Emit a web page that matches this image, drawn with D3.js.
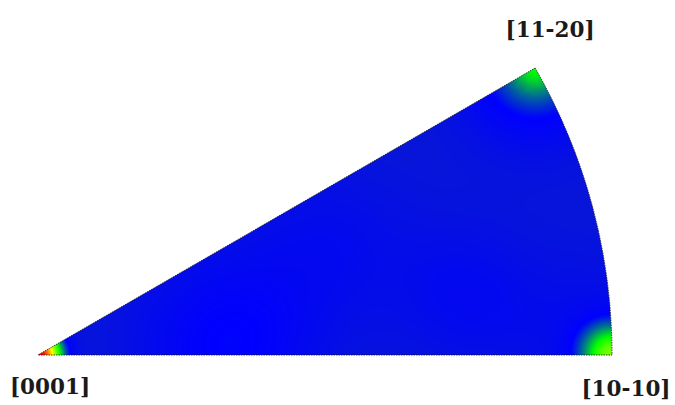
<!DOCTYPE html>
<html>
<head>
<meta charset="utf-8">
<script src="https://cdn.jsdelivr.net/npm/d3@7"></script>
<style>
  html, body { margin: 0; padding: 0; background: #fff; }
  svg { display: block; }
  .pole-label { font-family: "DejaVu Serif", serif; font-weight: bold; font-size: 21.5px; fill: #1a1a1a; }
</style>
</head>
<body>
<div id="chart"></div>
<script>
// Pole labels and their direction in the sector (degrees from [10-10], fraction of radius)
var poleNames = ['[0001]', '[10-10]', '[11-20]'];
var poleAngles = [0, 0, 30];
var poleRadii = [0, 1, 1];

// Density peaks (angle in deg, radius as fraction, height, width as fraction)
var peakAngles  = [0,    30,   30,   0,    3,    21,   8,    2];
var peakRadii   = [0,    1.0,  1.0,  1.0,  0.33, 0.55, 0.75, 0.97];
var peakHeights = [3.85, 0.55, 1.2,  1.85, 0.75, 0.35, 0.45, 0.4];
var peakWidths  = [0.03, 0.03, 0.09, 0.04, 0.12, 0.1,  0.09, 0.1];
var background = 0.25;

// Colour map stops (level -> colour)
var colourLevels = [0, 1, 2, 3, 4];
var colourStops = ['#0a1ec8', '#0000ff', '#00ff00', '#ffff00', '#ff0000'];

var width = 675, height = 405;
var cx = 38, cy = 355, R = 574;

var svg = d3.select('#chart').append('svg')
  .attr('width', width)
  .attr('height', height);

var rScale = d3.scaleLinear().domain([0, 1]).range([0, R]);
var colour = d3.scaleLinear().domain(colourLevels).range(colourStops)
  .interpolate(d3.interpolateRgb).clamp(true);

function toXY(angleDeg, rho) {
  var a = angleDeg * Math.PI / 180;
  return [cx + rScale(rho) * Math.cos(a), cy - rScale(rho) * Math.sin(a)];
}

// Build the density image on a canvas
var canvas = document.createElement('canvas');
canvas.width = width;
canvas.height = height;
var ctx = canvas.getContext('2d');
var img = ctx.createImageData(width, height);
var peaks = peakAngles.map(function(a, i) {
  var p = toXY(a, peakRadii[i]);
  return { x: p[0], y: p[1], h: peakHeights[i], w: rScale(peakWidths[i]) };
});
for (var y = 0; y < height; y++) {
  for (var x = 0; x < width; x++) {
    var v = background;
    peaks.forEach(function(p) {
      var dx = x + 0.5 - p.x, dy = y + 0.5 - p.y;
      v += p.h * Math.exp(-(dx * dx + dy * dy) / (2 * p.w * p.w));
    });
    var c = d3.rgb(colour(v));
    var k = (y * width + x) * 4;
    img.data[k] = c.r; img.data[k + 1] = c.g; img.data[k + 2] = c.b; img.data[k + 3] = 255;
  }
}
ctx.putImageData(img, 0, 0);

var wedge = d3.arc()
  .innerRadius(0)
  .outerRadius(R)
  .startAngle(Math.PI / 3)
  .endAngle(Math.PI / 2);

svg.append('clipPath').attr('id', 'wedge-clip')
  .append('path')
    .attr('transform', 'translate(' + cx + ',' + cy + ')')
    .attr('d', wedge());

svg.append('image')
  .attr('x', 0).attr('y', 0)
  .attr('width', width).attr('height', height)
  .attr('href', canvas.toDataURL())
  .attr('clip-path', 'url(#wedge-clip)');

// Outline along the diagonal and the arc
svg.append('path')
  .attr('transform', 'translate(' + cx + ',' + cy + ')')
  .attr('d', wedge())
  .attr('fill', 'none')
  .attr('stroke', '#111')
  .attr('stroke-width', 0.8)
  .attr('stroke-dasharray', '1.5 1');

// Pole labels
var labelOffsets = [[12, 39], [14, 41], [15, -31]];
svg.selectAll('text.pole-label')
  .data(poleNames)
  .join('text')
    .attr('class', 'pole-label')
    .attr('text-anchor', 'middle')
    .attr('x', function(d, i) { return toXY(poleAngles[i], poleRadii[i])[0] + labelOffsets[i][0]; })
    .attr('y', function(d, i) { return toXY(poleAngles[i], poleRadii[i])[1] + labelOffsets[i][1]; })
    .text(function(d) { return d; });
</script>
</body>
</html>
